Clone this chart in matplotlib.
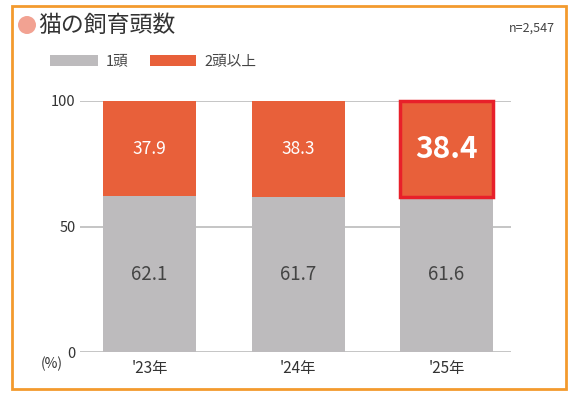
import matplotlib
matplotlib.use("Agg")
import matplotlib.pyplot as plt
from matplotlib.patches import Rectangle, Ellipse

plt.rcParams['font.family'] = ['Noto Sans CJK JP', 'DejaVu Sans']

categories = ["'23年", "'24年", "'25年"]
one_cat = [62.1, 61.7, 61.6]
two_plus = [37.9, 38.3, 38.4]
series_names = ["1頭", "2頭以上"]
yticks = [0, 50, 100]
title = "猫の飼育頭数"
n_label = "n=2,547"

GRAY = "#bdbbbd"
ORANGE = "#e8603a"
W, H = 574, 394

fig = plt.figure(figsize=(W/100, H/100), dpi=100)
fig.patch.set_facecolor("white")

def fx(px): return px / W
def fy(py): return 1 - py / H

ax = fig.add_axes([fx(80), fy(352), (511-80)/W, (352-101)/H])
x = list(range(len(categories)))
bw = 0.626
ax.bar(x, one_cat, width=bw, color=GRAY, zorder=2)
ax.bar(x, two_plus, width=bw, bottom=one_cat, color=ORANGE, zorder=2)
ax.set_xlim(-0.468, 2.434)
ax.set_ylim(0, 100)
ax.set_yticks(yticks)
ax.set_yticklabels([str(t) for t in yticks], fontsize=10.5, color="#333333")
ax.set_xticks(x)
ax.set_xticklabels(categories, fontsize=11, color="#333333")
ax.tick_params(axis='both', length=0, pad=3)
ax.tick_params(axis='x', pad=6)
for t in yticks:
    ax.axhline(t, color="#bbbbbb", lw=1.2, zorder=1)
for s in ax.spines.values():
    s.set_visible(False)

for i in x:
    ax.text(i, one_cat[i]/2, f"{one_cat[i]}", ha='center', va='center',
            fontsize=13.5, color="#444444", zorder=3)
    if i < 2:
        ax.text(i, one_cat[i] + two_plus[i]/2, f"{two_plus[i]}", ha='center', va='center',
                fontsize=12.5, color="white", zorder=3)
    else:
        ax.text(i, one_cat[i] + two_plus[i]/2, f"{two_plus[i]}", ha='center', va='center',
                fontsize=21.5, color="white", fontweight='bold', zorder=3)
        ax.add_patch(Rectangle((i - bw/2, one_cat[i]), bw, two_plus[i], fill=False,
                               edgecolor="#e8202a", lw=2.5, zorder=4, clip_on=False))

fig.text(fx(52), fy(364), "(%)", ha='center', va='center', fontsize=10, color="#333333")

# frame
fig.add_artist(Rectangle((fx(12), fy(389)), (566-12)/W, (389-6)/H,
                         transform=fig.transFigure, fill=False,
                         edgecolor="#f39a2e", lw=2))
# title
fig.add_artist(Ellipse((fx(27), fy(25)), 18/W, 18/H, transform=fig.transFigure,
                       color="#f2a292", ec='none'))
fig.text(fx(38), fy(25), title, fontsize=16.5, color="#333333", va='center', ha='left')
fig.text(fx(555), fy(28), n_label, fontsize=9, color="#444444", va='center', ha='right')

# legend
fig.add_artist(Rectangle((fx(50), fy(66)), 48/W, 11/H, transform=fig.transFigure,
                         color=GRAY, ec='none'))
fig.text(fx(106), fy(61), series_names[0], fontsize=10.5, color="#444444", va='center')
fig.add_artist(Rectangle((fx(150), fy(66)), 46/W, 11/H, transform=fig.transFigure,
                         color=ORANGE, ec='none'))
fig.text(fx(204), fy(61), series_names[1], fontsize=10.5, color="#444444", va='center')

fig.savefig("out.png", dpi=100)
